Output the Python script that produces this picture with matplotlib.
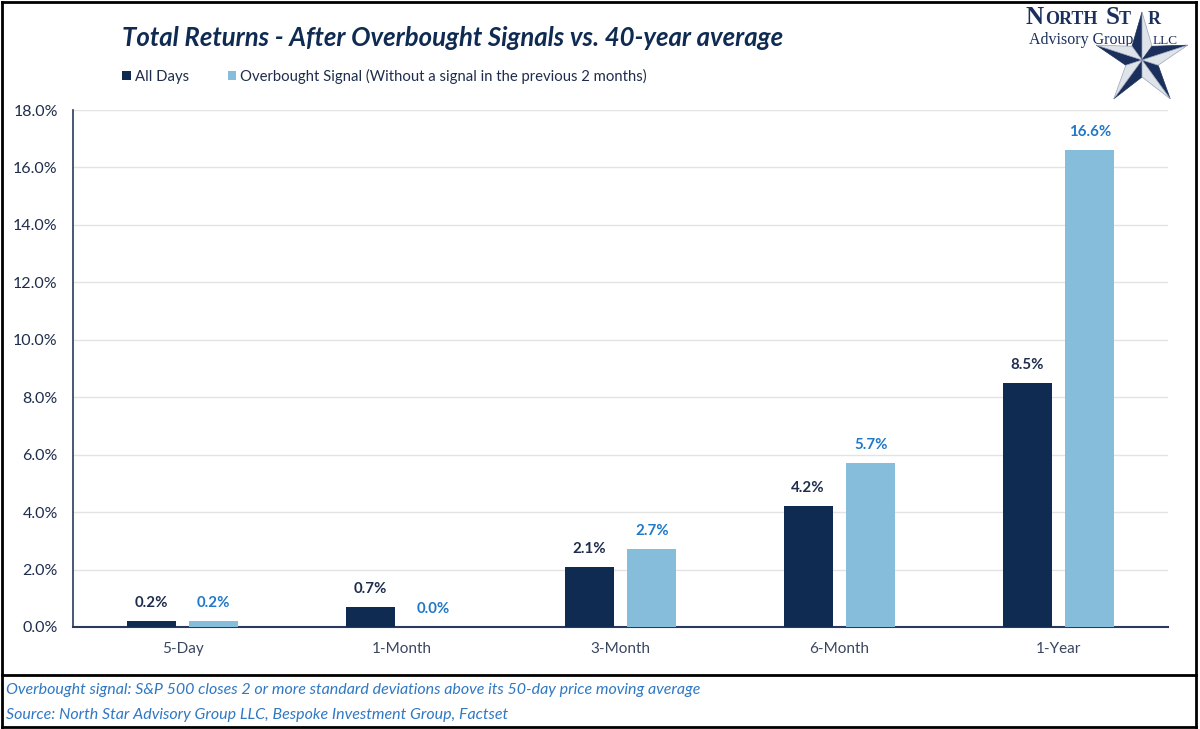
import matplotlib
matplotlib.use("Agg")
import matplotlib.pyplot as plt
import numpy as np
from matplotlib.patches import Patch, Polygon
from matplotlib.lines import Line2D

categories = ["5-Day", "1-Month", "3-Month", "6-Month", "1-Year"]
all_days = [0.2, 0.7, 2.1, 4.2, 8.5]
overbought = [0.2, 0.0, 2.7, 5.7, 16.6]
series_names = ["All Days", "Overbought Signal (Without a signal in the previous 2 months)"]
yticks = [0, 2, 4, 6, 8, 10, 12, 14, 16, 18]

DARK = "#0f2b52"
LIGHT = "#86bdda"
LABEL_DARK = "#1f2d4d"
LABEL_BLUE = "#1f78c8"
FOOT = "#2f78c4"

plt.rcParams['font.family'] = ['Lato', 'DejaVu Sans']

W, H = 1200, 729
fig = plt.figure(figsize=(12, 7.29), dpi=100)
fig.patch.set_facecolor("white")

def fx(x):
    return x / W

def fy(y):
    return 1 - y / H

ax = fig.add_axes([fx(73), fy(627), fx(1168) - fx(73), fy(110) - fy(627)])
x = np.arange(len(categories))
bw = 0.224
off = 0.143
b1 = ax.bar(x - off, all_days, bw, color=DARK, zorder=3)
b2 = ax.bar(x + off, overbought, bw, color=LIGHT, zorder=3)

for rect, v in zip(b1, all_days):
    ax.annotate(f"{v:.1f}%", (rect.get_x() + rect.get_width() / 2, v),
                xytext=(0, 8), textcoords="offset points", ha="center", va="bottom",
                fontsize=10.8, fontweight="bold", color=LABEL_DARK)
for rect, v in zip(b2, overbought):
    ax.annotate(f"{v:.1f}%", (rect.get_x() + rect.get_width() / 2, v),
                xytext=(0, 8), textcoords="offset points", ha="center", va="bottom",
                fontsize=10.8, fontweight="bold", color=LABEL_BLUE)

ax.set_xlim(-0.5, len(categories) - 0.5)
ax.set_ylim(0, 18)
ax.set_yticks(yticks)
ax.set_yticklabels([f"{t:.1f}%" for t in yticks])
ax.set_xticks(x)
ax.set_xticklabels(categories)
ax.tick_params(axis="y", length=0, pad=11, labelsize=11.5, labelcolor=LABEL_DARK)
ax.tick_params(axis="x", length=0, pad=11, labelsize=11, labelcolor="#3a4660")
ax.grid(axis="y", color="#e3e3e3", linewidth=1, zorder=0)
for s in ["top", "right"]:
    ax.spines[s].set_visible(False)
ax.spines["left"].set_color("#2a3a5e")
ax.spines["bottom"].set_color("#2a3a5e")
ax.spines["left"].set_linewidth(1.2)
ax.spines["bottom"].set_linewidth(1.5)

# Title
fig.text(fx(122), fy(38), "Total Returns - After Overbought Signals vs. 40-year average",
         fontsize=18.5, fontweight="bold", fontstyle="italic", color="#0f2b52",
         ha="left", va="center")

# Legend
handles = [Patch(facecolor=DARK), Patch(facecolor=LIGHT)]
fig.legend(handles, series_names, loc="center left", bbox_to_anchor=(fx(109), fy(76)),
           ncol=2, frameon=False, handlelength=0.55, handleheight=0.55,
           handletextpad=0.3, columnspacing=2.6, fontsize=10.7,
           labelcolor="#1f2d4d")

# Footnotes
fig.text(fx(6), fy(690), "Overbought signal: S&P 500 closes 2 or more standard deviations above its 50-day price moving average",
         fontsize=11.5, fontstyle="italic", color=FOOT, ha="left", va="center")
fig.text(fx(6), fy(715), "Source: North Star Advisory Group LLC, Bespoke Investment Group, Factset",
         fontsize=11.5, fontstyle="italic", color=FOOT, ha="left", va="center")

# Frame lines
frame_kw = dict(color="black", linewidth=2, transform=fig.transFigure)
fig.add_artist(Line2D([fx(2), fx(1196)], [fy(2), fy(2)], **frame_kw))
fig.add_artist(Line2D([fx(2), fx(1196)], [fy(727), fy(727)], **frame_kw))
fig.add_artist(Line2D([fx(2), fx(2)], [fy(2), fy(727)], **frame_kw))
fig.add_artist(Line2D([fx(1196), fx(1196)], [fy(2), fy(727)], **frame_kw))
fig.add_artist(Line2D([fx(2), fx(1196)], [fy(675), fy(675)], **frame_kw))

# Logo
logo_c = "#1b2f5c"
fig.text(fx(1026), fy(18), "N", fontsize=18, family="Liberation Serif", color=logo_c,
         ha="left", va="center", fontweight="bold")
fig.text(fx(1045), fy(20), "ORTH", fontsize=13, family="Liberation Serif", color=logo_c,
         ha="left", va="center", fontweight="bold")
fig.text(fx(1106), fy(18), "S", fontsize=18, family="Liberation Serif", color=logo_c,
         ha="left", va="center", fontweight="bold")
fig.text(fx(1119), fy(20), "T", fontsize=13, family="Liberation Serif", color=logo_c,
         ha="left", va="center", fontweight="bold")
fig.text(fx(1148), fy(20), "R", fontsize=13, family="Liberation Serif", color=logo_c,
         ha="left", va="center", fontweight="bold")
fig.text(fx(1029), fy(40), "Advisory Group", fontsize=11.5, family="Liberation Serif",
         color=logo_c, ha="left", va="center")
fig.text(fx(1153), fy(41), "LLC", fontsize=9.5, family="Liberation Serif",
         color=logo_c, ha="left", va="center")

cx, cy, R, r = 1142, 60, 48, 17
for i in range(5):
    ang = np.deg2rad(90 + 72 * i)
    a_prev = np.deg2rad(90 + 72 * i - 36)
    a_next = np.deg2rad(90 + 72 * i + 36)
    px, py = cx + R * np.cos(ang), cy - R * np.sin(ang)
    lx, ly = cx + r * np.cos(a_prev), cy - r * np.sin(a_prev)
    rx, ry = cx + r * np.cos(a_next), cy - r * np.sin(a_next)
    left_tri = [(fx(cx), fy(cy)), (fx(px), fy(py)), (fx(rx), fy(ry))]
    right_tri = [(fx(cx), fy(cy)), (fx(px), fy(py)), (fx(lx), fy(ly))]
    fig.add_artist(Polygon(left_tri, closed=True, facecolor=logo_c, edgecolor=logo_c,
                           linewidth=0.5, transform=fig.transFigure, zorder=5))
    fig.add_artist(Polygon(right_tri, closed=True, facecolor="#dfe3ea", edgecolor="#9aa4b8",
                           linewidth=0.5, transform=fig.transFigure, zorder=5))

fig.savefig("out.png", dpi=100, facecolor="white")
